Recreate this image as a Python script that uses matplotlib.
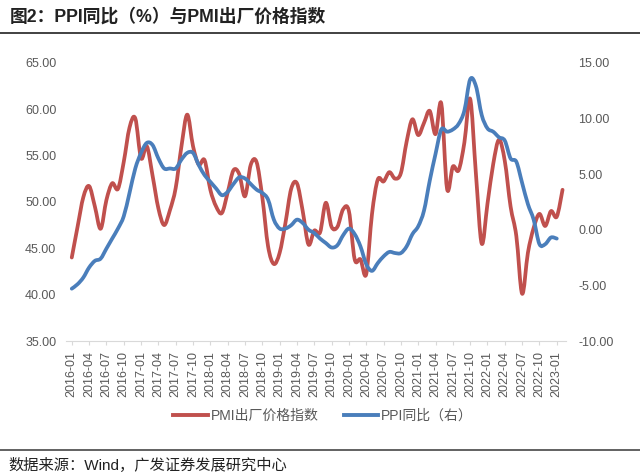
import numpy as np
import matplotlib
matplotlib.use("Agg")
from matplotlib import pyplot as plt
from matplotlib.path import Path
from matplotlib.patches import PathPatch
from matplotlib.lines import Line2D

plt.rcParams['font.family'] = ['Liberation Sans', 'Noto Sans CJK SC']
plt.rcParams['axes.unicode_minus'] = False

# months 2016-01 .. 2023-02
months = ["%d-%02d" % (y, m) for y in range(2016, 2024) for m in range(1, 13)][:86]

# PMI出厂价格指数 (left axis), 2016-01 .. 2023-02
pmi = [44.0, 47.3, 50.5, 51.7, 49.5, 47.1, 50.2, 52.0, 51.4, 54.3, 58.0, 59.0,
       54.7, 56.0, 52.8, 49.3, 47.5, 49.1, 51.5, 56.0, 59.4, 56.0, 54.0, 54.5,
       51.3, 49.5, 48.8, 51.0, 53.4, 53.0, 50.6, 54.0, 54.3, 50.5, 45.2, 43.3,
       44.5, 47.7, 51.4, 52.0, 49.0, 45.4, 46.9, 46.7, 49.9, 47.3, 47.3, 49.2,
       49.0, 43.8, 43.8, 42.2, 48.7, 52.4, 52.2, 53.2, 52.5, 53.1, 56.5, 58.9,
       57.2, 58.5, 59.8, 57.3, 60.6, 51.4, 53.8, 53.4, 56.4, 61.1, 53.0, 45.5,
       49.8, 54.1, 56.7, 54.4, 49.5, 46.3, 40.1, 44.5, 47.2, 48.7, 47.4, 49.0,
       48.4, 51.3]

# PPI同比 (right axis), 2016-01 .. 2023-01
ppi = [-5.3, -4.9, -4.3, -3.4, -2.8, -2.6, -1.7, -0.8, 0.1, 1.2, 3.3, 5.5,
       6.9, 7.8, 7.6, 6.4, 5.5, 5.5, 5.5, 6.3, 6.9, 6.9, 5.8, 4.9,
       4.3, 3.7, 3.1, 3.4, 4.1, 4.7, 4.6, 4.1, 3.6, 3.3, 2.7, 0.9,
       0.1, 0.1, 0.4, 0.9, 0.6, 0.0, -0.3, -0.8, -1.2, -1.6, -1.4, -0.5,
       0.1, -0.4, -1.5, -3.1, -3.7, -3.0, -2.4, -2.0, -2.1, -2.1, -1.5, -0.4,
       0.3, 1.7, 4.4, 6.8, 9.0, 8.8, 9.0, 9.5, 10.7, 13.5, 12.9, 10.3,
       9.1, 8.8, 8.3, 8.0, 6.4, 6.1, 4.2, 2.3, 0.9, -1.3, -1.3, -0.7,
       -0.8]

left_ticks = [35, 40, 45, 50, 55, 60, 65]
right_ticks = [-10, -5, 0, 5, 10, 15]

RED = '#C0504D'
BLUE = '#4A7EBB'
GREY = '#595959'


def smooth_path(ys):
    # excel-like smoothed line: bezier segments through every data point
    xs = np.arange(len(ys), dtype=float)
    ys = np.asarray(ys, dtype=float)
    n = len(ys)
    verts = [(xs[0], ys[0])]
    codes = [Path.MOVETO]
    for i in range(n - 1):
        a = max(i - 1, 0)
        b = min(i + 2, n - 1)
        c1 = (xs[i] + (xs[i + 1] - xs[a]) / 6, ys[i] + (ys[i + 1] - ys[a]) / 6)
        c2 = (xs[i + 1] - (xs[b] - xs[i]) / 6, ys[i + 1] - (ys[b] - ys[i]) / 6)
        verts += [c1, c2, (xs[i + 1], ys[i + 1])]
        codes += [Path.CURVE4] * 3
    return Path(verts, codes)


fig = plt.figure(figsize=(6.4, 4.76), dpi=100)
ax = fig.add_axes([66 / 640, 1 - 341 / 476, 500 / 640, (341 - 62.7) / 476])
ax2 = ax.twinx()

ax.add_patch(PathPatch(smooth_path(pmi), fill=False, edgecolor=RED, lw=2.7,
                       capstyle='round', joinstyle='round', zorder=3))
ax2.add_patch(PathPatch(smooth_path(ppi), fill=False, edgecolor=BLUE, lw=2.7,
                        capstyle='round', joinstyle='round', zorder=2))

ax.set_xlim(-1.0, 85.6)
ax.set_ylim(35, 65)
ax2.set_ylim(-10, 15)

ax.set_yticks(left_ticks)
ax.set_yticklabels(["%.2f" % v for v in left_ticks])
ax2.set_yticks(right_ticks)
ax2.set_yticklabels(["%.2f" % v for v in right_ticks])

ax.set_xticks(range(0, 85, 3))
ax.set_xticklabels(months[0:85:3], rotation=90)

for a in (ax, ax2):
    for s in ('top', 'left', 'right'):
        a.spines[s].set_visible(False)
    a.spines['bottom'].set_color('#D9D9D9')
ax2.spines['bottom'].set_visible(False)

ax.tick_params(axis='y', length=0, pad=7, labelsize=9, labelcolor=GREY)
ax2.tick_params(axis='y', length=0, pad=9, labelsize=9, labelcolor=GREY)
ax.tick_params(axis='x', length=3, color='#D9D9D9', pad=4, labelsize=9,
               labelcolor=GREY)

handles = [Line2D([], [], color=RED, lw=2.8), Line2D([], [], color=BLUE, lw=2.8)]
fig.legend(handles, ['PMI出厂价格指数', 'PPI同比（右）'], loc='center',
           bbox_to_anchor=(0.505, 1 - 416 / 476), ncol=2, frameon=False,
           fontsize=10, handlelength=2.5, handletextpad=0.2, columnspacing=1.8,
           labelcolor=GREY)

fig.text(10 / 640, 1 - 17 / 476, '图2：PPI同比（%）与PMI出厂价格指数',
         fontsize=12.8, fontweight='bold', va='center', ha='left', color='#222222')
fig.add_artist(Line2D([0, 1], [1 - 33 / 476] * 2, transform=fig.transFigure,
                      color='#333333', lw=1.3))
fig.add_artist(Line2D([0, 1], [1 - 450 / 476] * 2, transform=fig.transFigure,
                      color='#555555', lw=1.3))
fig.text(8 / 640, 1 - 465 / 476, '数据来源：Wind，广发证券发展研究中心',
         fontsize=11, va='center', ha='left', color='#222222')

plt.savefig("out.png", dpi=100)
